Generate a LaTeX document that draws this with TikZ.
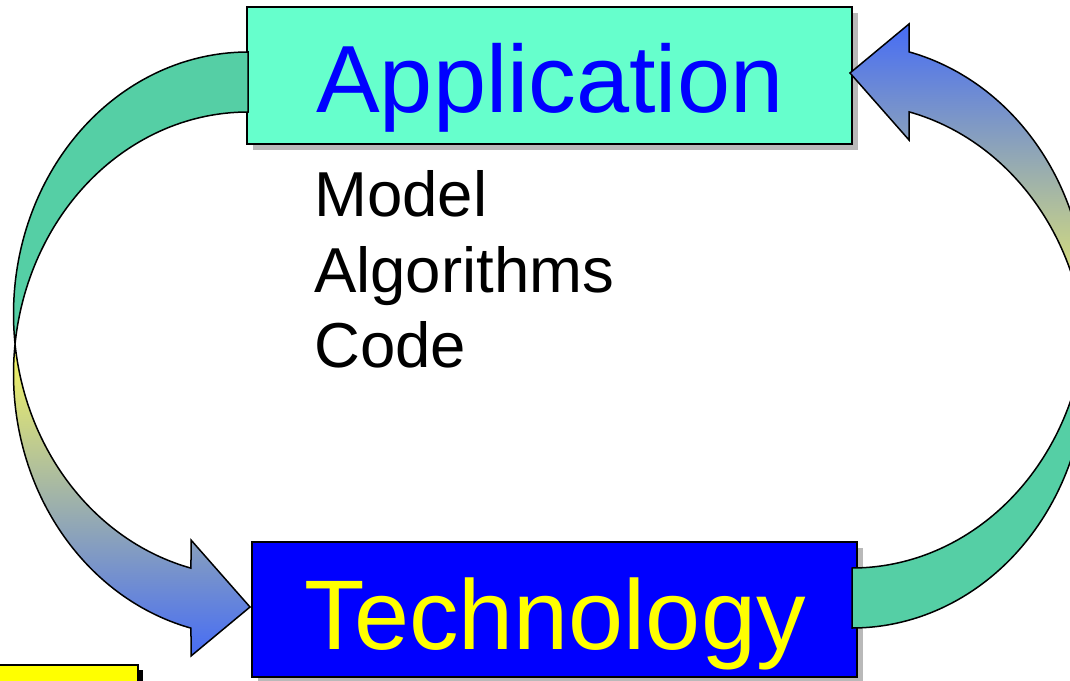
\documentclass[tikz,border=0pt]{standalone}
\usepackage{fontspec}
\setmainfont{Liberation Sans}
\usetikzlibrary{shadows}
\definecolor{appfill}{RGB}{102,255,204}
\definecolor{backgreen}{RGB}{85,207,165}
\definecolor{gradyellow}{RGB}{248,248,95}
\definecolor{gradmid}{RGB}{182,188,196}
\definecolor{gradblue}{RGB}{70,108,245}
\definecolor{pureblue}{RGB}{0,0,255}
\definecolor{pureyellow}{RGB}{255,255,0}
\begin{document}
\begin{tikzpicture}[x=1pt,y=-1pt,
  boxline/.style={draw=black, line width=2pt, inner sep=0pt,
     drop shadow={shadow xshift=6pt, shadow yshift=-6pt, fill=gray!55, opacity=1}},
  arrowline/.style={draw=black, line width=1.5pt, line join=miter},
  bigtext/.style={anchor=base west, inner sep=0pt},
  smalltext/.style={anchor=base west, inner sep=0pt, font=\fontsize{63.5}{63.5}\selectfont, text=black},
]
\useasboundingbox (0,0) rectangle (1070,680);
\clip (0,0) rectangle (1070,680);
% geometry of the curved arrows
\def\cx{248}\def\rx{234.5}\def\ry{262}\def\ca{314}\def\cb{374}
\def\ta{173.43}\def\tb{186.57}\def\te{104.07}

% boxes
\node[boxline, fill=appfill, minimum width=605pt, minimum height=137pt] (app) at (549.5,75.5) {};
\node[boxline, fill=pureblue, minimum width=605pt, minimum height=135pt] (tech) at (554.5,609.5) {};
% yellow box at bottom left
\fill[black] (-5,670) rectangle (143,700);
\draw[line width=2pt, fill=pureyellow] (-10,665) rectangle (138,700);

% texts
\node[bigtext, text=pureblue, font=\fontsize{95.5}{95.5}\selectfont] (apptxt) at (316,112) {Application};
\node[bigtext, text=pureyellow, font=\fontsize{99}{99}\selectfont] (techtxt) at (304.5,649.5) {Technology};
\node[smalltext] (model) at (314,216) {Model};
\node[smalltext] (algo) at (314,292) {Algorithms};
\node[smalltext] (code) at (314,367) {Code};

% left curved arrow: back band
\path[arrowline, fill=backgreen]
  plot[domain=270:\ta, samples=80] ({\cx+\rx*cos(\x)},{\ca+\ry*sin(\x)})
  -- plot[domain=\tb:270, samples=80] ({\cx+\rx*cos(\x)},{\cb+\ry*sin(\x)})
  -- cycle;
% left curved arrow: front band with head
\path[arrowline, top color=gradyellow, middle color=gradmid, bottom color=gradblue]
  plot[domain=\tb:\te, samples=80] ({\cx+\rx*cos(\x)},{\cb+\ry*sin(\x)})
  -- (191,656) -- (250,607) -- (191,540)
  -- plot[domain=\te:\ta, samples=80] ({\cx+\rx*cos(\x)},{\ca+\ry*sin(\x)})
  -- cycle;

% right curved arrow (point reflection of the left one)
\path[arrowline, fill=backgreen]
  plot[domain=270:\ta, samples=80] ({1100-\cx-\rx*cos(\x)},{680-\ca-\ry*sin(\x)})
  -- plot[domain=\tb:270, samples=80] ({1100-\cx-\rx*cos(\x)},{680-\cb-\ry*sin(\x)})
  -- cycle;
\path[arrowline, top color=gradblue, middle color=gradmid, bottom color=gradyellow]
  plot[domain=\tb:\te, samples=80] ({1100-\cx-\rx*cos(\x)},{680-\cb-\ry*sin(\x)})
  -- (909,24) -- (850,73) -- (909,140)
  -- plot[domain=\te:\ta, samples=80] ({1100-\cx-\rx*cos(\x)},{680-\ca-\ry*sin(\x)})
  -- cycle;
\end{tikzpicture}
\end{document}
